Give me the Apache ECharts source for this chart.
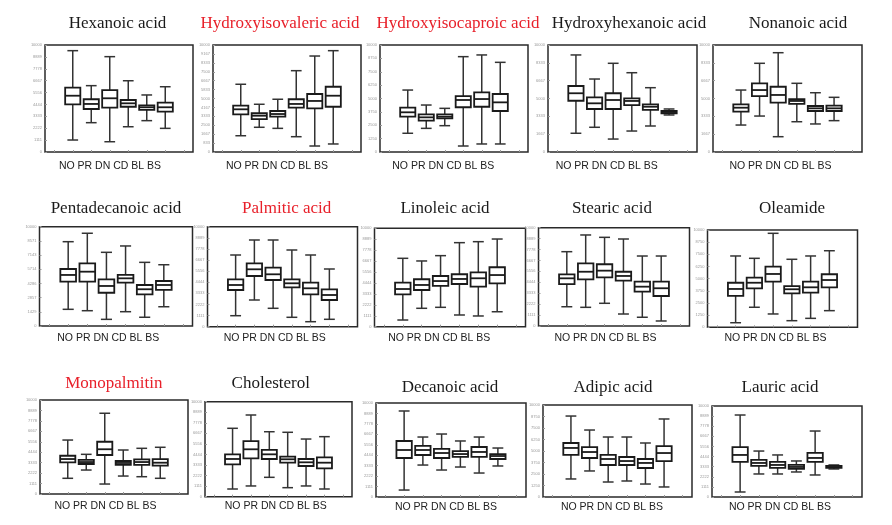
<!DOCTYPE html>
<html><head><meta charset="utf-8">
<script src="https://cdn.jsdelivr.net/npm/echarts@6/dist/echarts.min.js"></script>
<style>html,body{margin:0;padding:0;background:#fff}#c{width:892px;height:525px}</style>
</head><body><div id="c"></div><script>
// groups shown in every panel
const groups = ['NO','PR','DN','CD','BL','BS'];
const groupLabel = 'NO PR DN CD BL BS';
const titles = ['Hexanoic acid','Hydroxyisovaleric acid','Hydroxyisocaproic acid','Hydroxyhexanoic acid','Nonanoic acid',
  'Pentadecanoic acid','Palmitic acid','Linoleic acid','Stearic acid','Oleamide',
  'Monopalmitin','Cholesterol','Decanoic acid','Adipic acid','Lauric acid'];
const redTitles = ['Hydroxyisovaleric acid','Hydroxyisocaproic acid','Palmitic acid','Monopalmitin'];
// box statistics per group: [lower whisker, Q1, median, Q3, upper whisker] (relative units, % of axis)
const hexanoic = [[11.2,44.6,52.6,60.1,94.7],[27.4,40.2,44.9,49.3,62.0],[9.6,41.4,50.2,57.9,89.1],[23.6,42.3,45.5,48.6,66.6],[29.3,39.3,41.8,43.6,53.3],[22.1,37.7,41.8,46.1,61.0]];
const hydroxyisovaleric = [[15.2,35.2,39.9,43.3,63.3],[23.1,30.8,33.9,36.2,44.6],[22.1,33.0,35.5,38.3,49.3],[14.3,41.4,44.9,49.3,76.0],[5.6,40.8,47.7,54.2,89.7],[7.5,42.3,52.6,61.0,94.7]];
const hydroxyisocaproic = [[17.5,33.0,37.1,41.4,57.9],[22.1,29.3,32.4,35.2,43.9],[24.6,31.5,33.0,35.2,40.8],[5.6,41.8,48.6,52.3,89.1],[7.5,42.3,49.5,55.8,90.7],[7.5,38.3,46.4,54.2,83.8]];
const hydroxyhexanoic = [[17.5,47.9,54.9,61.7,90.7],[23.1,40.2,45.5,51.1,68.2],[12.1,40.2,48.6,54.9,82.9],[19.6,43.9,47.7,50.2,74.1],[24.3,39.3,42.3,44.6,60.1],[34.6,36.2,37.4,38.3,40.2]];
const nonanoic = [[25.2,37.7,41.4,44.6,57.9],[33.6,52.3,57.9,64.2,82.9],[14.3,46.1,53.3,61.0,92.8],[28.3,44.9,47.7,49.3,64.2],[26.2,38.3,40.8,43.0,55.4],[29.3,38.3,40.8,43.3,51.1]];
const pentadecanoic = [[16.8,44.6,51.4,57.4,84.9],[15.4,44.6,54.7,63.1,93.4],[6.7,33.5,40.3,47.0,74.2],[14.4,43.6,48.0,51.4,80.6],[8.8,31.9,37.0,41.3,64.1],[19.4,36.3,41.3,45.3,61.7]];
const palmitic = [[11.0,36.7,41.7,47.4,71.7],[26.7,50.7,57.4,63.4,86.7],[18.4,46.7,52.4,59.0,86.7],[9.4,39.4,43.4,47.4,76.7],[5.0,32.4,38.4,44.0,71.7],[7.4,26.7,31.7,37.4,57.7]];
const linoleic = [[6.8,32.9,38.3,44.7,69.5],[18.7,37.3,42.4,48.2,66.8],[19.7,41.4,46.4,51.5,72.2],[11.9,43.4,48.5,53.3,85.4],[10.9,40.7,49.2,55.3,86.4],[15.2,44.1,52.5,60.4,89.1]];
const stearic = [[19.6,42.7,48.5,52.6,75.6],[19.0,47.5,55.2,63.8,92.6],[23.1,49.5,56.3,62.8,90.2],[12.2,46.1,50.9,55.2,88.5],[8.9,34.9,40.0,45.1,71.2],[5.1,30.5,38.4,45.1,71.2]];
const oleamide = [[4.7,32.2,39.4,45.8,73.3],[20.6,40.1,45.8,51.0,70.9],[13.7,46.9,54.8,62.3,96.6],[6.8,34.9,39.1,42.4,69.9],[9.2,35.6,41.1,46.9,73.3],[17.1,41.1,48.6,54.5,78.7]];
const monopalmitin = [[16.7,33.7,37.2,40.7,57.4],[25.5,31.9,34.0,36.2,42.2],[10.6,41.5,47.6,55.6,85.9],[19.1,30.9,33.0,35.1,46.8],[18.4,30.9,34.0,36.9,48.6],[16.7,30.1,33.3,37.2,49.7]];
const cholesterol = [[8.1,34.1,39.7,44.6,72.0],[11.3,40.4,49.9,58.6,86.0],[20.4,39.7,44.6,49.2,68.4],[9.5,35.8,39.4,42.1,67.8],[11.3,32.3,36.2,39.7,60.7],[8.1,29.9,35.8,41.5,63.2]];
const decanoic = [[7.4,41.5,50.0,59.6,91.5],[34.0,44.7,50.0,54.3,63.8],[28.7,41.5,46.8,51.1,67.0],[31.9,42.6,45.7,48.9,59.6],[25.5,42.6,47.9,53.2,63.8],[33.0,40.4,43.6,45.7,52.1]];
const adipic = [[19.6,45.7,53.3,58.7,88.0],[28.3,42.4,48.9,54.3,72.8],[16.3,34.8,41.3,45.7,65.2],[17.4,34.8,39.1,43.5,65.2],[14.1,31.5,37.0,41.3,58.7],[10.9,39.1,47.8,55.4,84.8]];
const lauric = [[5.5,38.5,46.2,54.9,90.1],[25.3,34.1,37.4,40.7,50.5],[25.3,31.9,35.2,38.5,46.2],[27.5,30.8,33.0,35.2,39.6],[24.2,38.5,42.9,48.4,72.5],[30.8,31.9,33.0,34.1,35.2]];
// number of y tick intervals in each panel
const yTickCounts = [9,12,8,6,6, 7,9,9,9,8, 9,9,9,8,9];

const panelData = [hexanoic,hydroxyisovaleric,hydroxyisocaproic,hydroxyhexanoic,nonanoic,
  pentadecanoic,palmitic,linoleic,stearic,oleamide,monopalmitin,cholesterol,decanoic,adipic,lauric];

// layout: [left, top, width, height] of each plot frame
const frames = [
  [45,45,148,107],[213,45,148,107],[380,45,148,107],[548,45,149,107],[713,45,149,107],
  [39.5,226.7,153,99.3],[207.5,226.7,150,100],[374.5,228.3,151,98.4],[538.5,227.7,151,98.3],[707.5,230,150,97.3],
  [40,400,148,94],[205,401.7,147,95],[376,403,150,94],[543,405,149,92],[712,406,150,91]
];
// title centre [x,y], group-label centre [x,y]
const titlePos = [[117.5,24],[280,24],[458,24],[629,24],[798,24],
  [116,209],[286.7,209],[445,209],[612,209],[792,209],
  [113.8,384],[270.8,384],[450,388],[613,388],[780,388]];
const labelPos = [[110,166],[277,166],[443.3,166],[606.7,166],[780.5,166],
  [108.3,338],[274.7,338],[439.2,338],[605.5,338],[775.5,338],
  [105.5,506],[275.8,506],[446,507],[612,507],[780,507]];

const cats = [' ', ...groups, '  '];
const grids = [], xAxes = [], yAxes = [], series = [], graphics = [];

function renderBox(params, api) {
  const x = api.value(0);
  const lo = api.coord([x, api.value(1)]);
  const q1 = api.coord([x, api.value(2)]);
  const md = api.coord([x, api.value(3)]);
  const q3 = api.coord([x, api.value(4)]);
  const hi = api.coord([x, api.value(5)]);
  const band = api.size([1, 0])[0];
  const bw = band * 0.82, cw = band * 0.58;
  const cx = lo[0];
  const wStyle = {stroke: '#333', lineWidth: 1.5};
  const bStyle = {stroke: '#1a1a1a', lineWidth: 1.8, fill: '#fff'};
  return {type: 'group', children: [
    {type: 'line', shape: {x1: cx, y1: hi[1], x2: cx, y2: lo[1]}, style: wStyle},
    {type: 'line', shape: {x1: cx - cw/2, y1: hi[1], x2: cx + cw/2, y2: hi[1]}, style: wStyle},
    {type: 'line', shape: {x1: cx - cw/2, y1: lo[1], x2: cx + cw/2, y2: lo[1]}, style: wStyle},
    {type: 'rect', shape: {x: cx - bw/2, y: q3[1], width: bw, height: q1[1] - q3[1]}, style: bStyle},
    {type: 'line', shape: {x1: cx - bw/2, y1: md[1], x2: cx + bw/2, y2: md[1]}, style: {stroke: '#1a1a1a', lineWidth: 1.8}}
  ]};
}

panelData.forEach((d, i) => {
  const f = frames[i];
  grids.push({left: f[0], top: f[1], width: f[2], height: f[3], show: true,
    borderColor: '#2a2a2a', borderWidth: 1.5, backgroundColor: '#fff', containLabel: false});
  xAxes.push({type: 'category', gridIndex: i, data: cats, boundaryGap: true,
    axisLine: {show: false}, axisLabel: {show: false},
    axisTick: {show: true, inside: true, alignWithLabel: true, interval: 0, length: 2, lineStyle: {color: '#999', width: 1}},
    splitLine: {show: false}});
  const n = yTickCounts[i];
  yAxes.push({type: 'value', gridIndex: i, min: 0, max: 100, interval: 100 / n,
    axisLine: {show: false}, splitLine: {show: false},
    axisTick: {show: true, inside: true, length: 2, lineStyle: {color: '#999'}},
    axisLabel: {show: true, fontSize: 4, color: '#999', margin: 3, formatter: v => String(Math.round(v * 100))}});
  series.push({type: 'custom', xAxisIndex: i, yAxisIndex: i, renderItem: renderBox,
    encode: {x: 0, y: [1,2,3,4,5]}, silent: true,
    data: d.map((s, k) => [k + 1, ...s])});
  graphics.push({type: 'text', x: titlePos[i][0], y: titlePos[i][1], silent: true,
    style: {text: titles[i], textAlign: 'center', textVerticalAlign: 'middle',
      font: '17px "Liberation Serif", "Times New Roman", serif',
      fill: redTitles.includes(titles[i]) ? '#e8202a' : '#1a1a1a'}});
  graphics.push({type: 'text', x: labelPos[i][0], y: labelPos[i][1], silent: true,
    style: {text: groupLabel, textAlign: 'center', textVerticalAlign: 'middle',
      font: '10.5px "Liberation Sans", Arial, sans-serif', fill: '#222'}});
});

const chart = echarts.init(document.getElementById('c'), null, {renderer: 'canvas'});
chart.setOption({animation: false, backgroundColor: '#fff', grid: grids, xAxis: xAxes, yAxis: yAxes, series: series, graphic: graphics});
</script></body></html>
